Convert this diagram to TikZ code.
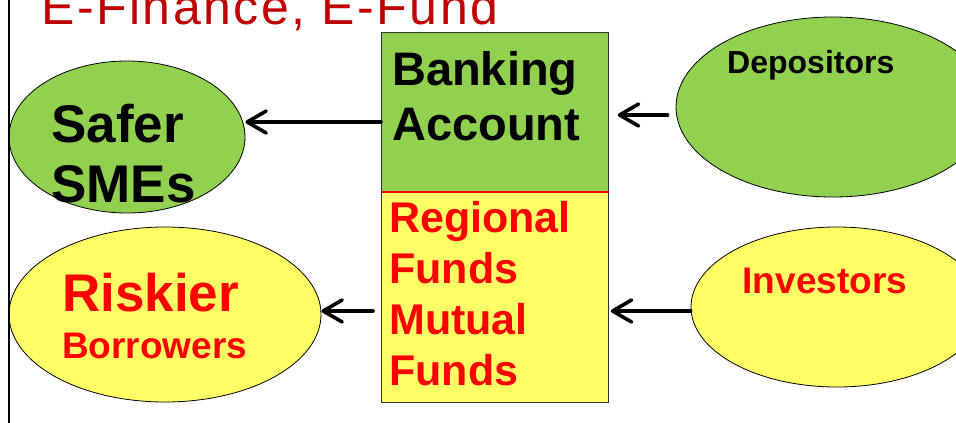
\documentclass[tikz,border=0pt]{standalone}
\usepackage{fontspec}
\setmainfont{Liberation Sans}
\newfontfamily\titlefont[LetterSpace=5]{Liberation Sans}
\usetikzlibrary{arrows.meta,shapes.geometric}
\definecolor{leafgreen}{HTML}{92D050}
\definecolor{paleyellow}{HTML}{FFFF66}
\definecolor{titlered}{HTML}{C00000}
\definecolor{textred}{HTML}{FF0000}
\begin{document}
\begin{tikzpicture}[x=1pt,y=-1pt,
  oval/.style={ellipse,draw=black,line width=0.8pt,inner sep=0pt},
  panel/.style={rectangle,draw=black!80,line width=0.8pt,inner sep=0pt,anchor=north west,minimum width=227pt},
  label/.style={anchor=base west,inner sep=0pt,font=\bfseries},
  flow/.style={line width=3.6pt,line cap=round,
    -{Straight Barb[length=19pt,width=22pt,round]}}]
\useasboundingbox (0,0) rectangle (956,423);

% ovals on both sides
\node[oval,fill=leafgreen,minimum width=236pt,minimum height=152pt] (safer) at (127,137) {};
\node[oval,fill=paleyellow,minimum width=312pt,minimum height=175pt] (riskier) at (165,314.5) {};
\node[oval,fill=leafgreen,minimum width=314pt,minimum height=180pt] (depositors) at (833,107) {};
\node[oval,fill=paleyellow,minimum width=292pt,minimum height=160pt] (investors) at (837,307) {};

% central stacked panel
\node[panel,fill=leafgreen,minimum height=159pt] (bank) at (381,32) {};
\node[panel,fill=paleyellow,minimum height=211pt] (funds) at (381,191) {};
\draw[textred,line width=1.6pt] (bank.south west) -- (bank.south east);

% title and left rule
\node[anchor=base west,inner sep=0pt,text=titlered,font=\titlefont\fontsize{50}{60}\selectfont] (title) at (41,24) {E-Finance, E-Fund};
\coordinate (ruletop) at (8.5,0);
\coordinate (rulebottom) at (8.5,423);
\draw[line width=2pt] (ruletop) -- (rulebottom);

% texts
\node[label] (banktext) at (392,85) {\fontsize{10}{55}\selectfont
  \begin{tabular}[t]{@{}l@{}}\fontsize{47}{55}\selectfont Banking\\\fontsize{47}{55}\selectfont Account\end{tabular}};
\node[label,text=textred] (fundstext) at (389,232) {\fontsize{10}{51}\selectfont
  \begin{tabular}[t]{@{}l@{}}\fontsize{43}{51}\selectfont Regional\\\fontsize{43}{51}\selectfont Funds\\
  \fontsize{43}{51}\selectfont Mutual\\\fontsize{43}{51}\selectfont Funds\end{tabular}};
\node[label] (safertext) at (51,142) {\fontsize{10}{60}\selectfont
  \begin{tabular}[t]{@{}l@{}}\fontsize{53}{60}\selectfont Safer\\\fontsize{53}{60}\selectfont SMEs\end{tabular}};
\node[label,text=textred] (riskiertext) at (62,311) {\fontsize{10}{47}\selectfont
  \begin{tabular}[t]{@{}l@{}}\fontsize{53}{47}\selectfont Riskier\\\fontsize{37}{47}\selectfont Borrowers\end{tabular}};
\node[label,font=\bfseries\fontsize{32}{38}\selectfont] (deptext) at (727,73) {Depositors};
\node[label,text=textred,font=\bfseries\fontsize{37}{44}\selectfont] (invtext) at (742.5,293) {Investors};

% flows
\coordinate (rowA) at (0,122);
\coordinate (rowB) at (0,115);
\coordinate (rowC) at (0,311);
\draw[flow] (bank.west |- rowA) -- (safer.east |- rowA);
\draw[flow,shorten <=8pt,shorten >=9pt] (depositors.west |- rowB) -- (bank.east |- rowB);
\draw[flow,shorten <=8pt] (funds.west |- rowC) -- (riskier.east |- rowC);
\draw[flow,shorten >=2pt] (investors.west |- rowC) -- (funds.east |- rowC);
\end{tikzpicture}
\end{document}
